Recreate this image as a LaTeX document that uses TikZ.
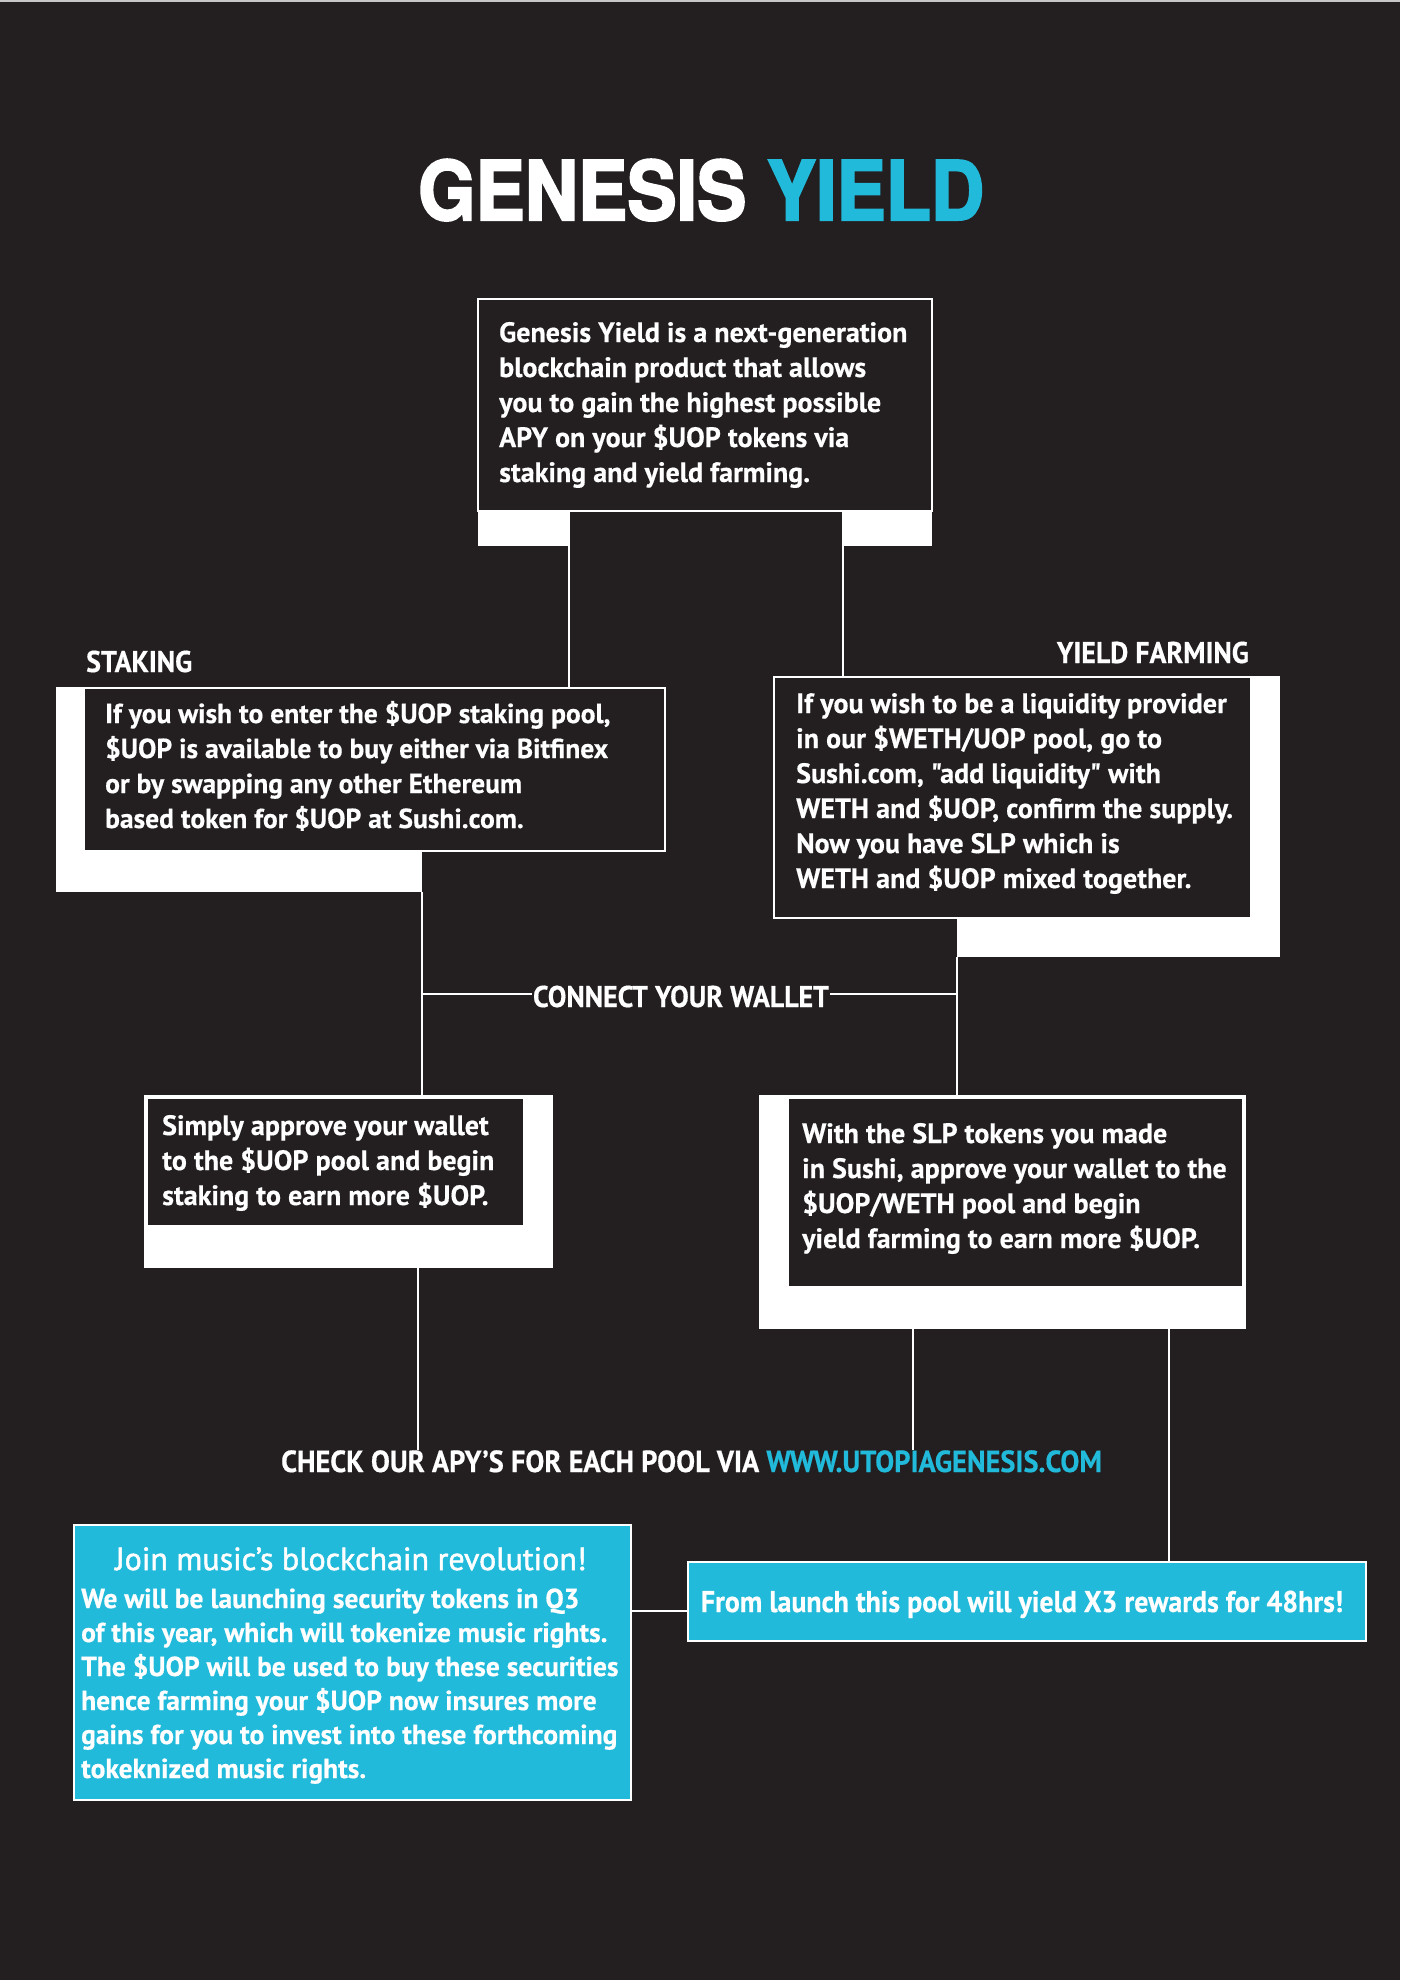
\documentclass[tikz,border=0pt]{standalone}
\usepackage{fontspec}
\setmainfont[Ligatures=TeXOff, BoldFeatures={FakeBold=0.5}]{PT Sans}
\newfontfamily\condfont[Ligatures=TeXOff, FakeStretch=0.93, BoldFeatures={FakeBold=0.5}]{PT Sans}
\newfontfamily\titlefont[BoldFeatures={FakeBold=2.5,FakeStretch=0.9}]{TeX Gyre Heros}
\newfontfamily\semifont[Ligatures=TeXOff, FakeBold=1.5]{PT Sans}
\definecolor{bgdark}{HTML}{231F20}
\definecolor{gcyan}{HTML}{22BADA}
\newcommand\mlines[1]{\vtop{\halign{##\hfil\cr#1\crcr}}}
\tikzset{
  box/.style={draw=white, line width=1.5pt, fill=bgdark, inner sep=0pt, outer sep=0pt, anchor=north west},
  shadowbox/.style={fill=white, draw=none, inner sep=0pt, outer sep=0pt, anchor=north west},
  cbox/.style={draw=white, line width=2pt, fill=gcyan, inner sep=0pt, outer sep=0pt, anchor=north west},
  conn/.style={draw=white, line width=1.5pt},
  bodytext/.style={text=white, font=\bfseries\fontsize{28}{35}\selectfont, inner sep=0pt, anchor=base west},
  lbl/.style={text=white, font=\condfont\bfseries\fontsize{30}{36}\selectfont, inner sep=0pt},
}
\begin{document}
\begin{tikzpicture}[x=1pt,y=-1pt]
\fill[bgdark] (0,0) rectangle (1400,1980);
\useasboundingbox (0,0) rectangle (1400,1980);
\fill[white!75!bgdark] (0,0) rectangle (1400,2);

% title
\node[anchor=base west, inner sep=0pt, text=white, font=\titlefont\bfseries\fontsize{82}{90}\selectfont] (title) at (418,220) {GENESIS \textcolor{gcyan}{YIELD}};

% top box
\node[shadowbox, minimum width=454pt, minimum height=247pt] (topsh) at (478,299) {};
\node[box, minimum width=454pt, minimum height=212pt] (top) at (478,299) {};
\node[fill=bgdark, inner sep=0pt, outer sep=0pt, anchor=north west, minimum width=274pt, minimum height=35pt] (notch) at (569,512) {};
\node[bodytext] (toptext) at (499,342) {\mlines{Genesis Yield is a next-generation\cr blockchain product that allows\cr you to gain the highest possible\cr APY on your \$UOP tokens via\cr staking and yield farming.}};

% staking
\node[lbl, anchor=base west] (stakelbl) at (86,672) {STAKING};
\node[shadowbox, minimum width=366pt, minimum height=205pt] (stakesh) at (56,687) {};
\node[box, minimum width=581pt, minimum height=163pt] (stake) at (84,688) {};
\node[bodytext, font=\bfseries\fontsize{27.5}{35}\selectfont] (staketext) at (105,723) {\mlines{If you wish to enter the \$UOP staking pool,\cr \$UOP is available to buy either via Bitfinex\cr or by swapping any other Ethereum\cr based token for \$UOP at Sushi.com.}};

% yield farming
\node[lbl, anchor=base east] (yflbl) at (1249,663) {YIELD FARMING};
\node[shadowbox, minimum width=323pt, minimum height=281pt] (yfsh) at (957,676) {};
\node[box, minimum width=477pt, minimum height=241pt] (yf) at (774,677) {};
\node[bodytext] (yftext) at (796,713) {\mlines{If you wish to be a liquidity provider\cr in our \$WETH/UOP pool, go to\cr Sushi.com, "add liquidity" with\cr WETH and \$UOP, confirm the supply.\cr Now you have SLP which is\cr WETH and \$UOP mixed together.}};

% connectors from top box
\draw[conn] (notch.north west) -- (notch.north west |- stake.north);
\draw[conn] (notch.north east) -- (notch.north east |- yf.north);

% approve boxes
\node[shadowbox, minimum width=409pt, minimum height=173pt] (app1sh) at (144,1095) {};
\node[box, minimum width=377pt, minimum height=128pt] (app1) at (147,1098) {};
\node[bodytext] (app1text) at (162,1135) {\mlines{Simply approve your wallet\cr to the \$UOP pool and begin\cr staking to earn more \$UOP.}};

\node[shadowbox, minimum width=487pt, minimum height=234pt] (app2sh) at (759,1095) {};
\node[box, minimum width=455pt, minimum height=189pt] (app2) at (788,1098) {};
\node[bodytext] (app2text) at (802,1143) {\mlines{With the SLP tokens you made\cr in Sushi, approve your wallet to the\cr \$UOP/WETH pool and begin\cr yield farming to earn more \$UOP.}};

\draw[conn] (stakesh.south east) -- (stakesh.south east |- app1.north);
\draw[conn] (yfsh.south west) -- (yfsh.south west |- app2.north);

% connect your wallet
\coordinate (cw) at (681,994);
\draw[conn] (cw -| stakesh.south east) -- (cw -| yfsh.south west);
\node[lbl, fill=bgdark, inner xsep=1pt, anchor=base] (wallet) at (681,1007) {CONNECT YOUR WALLET};

% check line
\node[lbl, anchor=base west, font=\condfont\bfseries\fontsize{30.5}{36}\selectfont] (check) at (281,1472) {CHECK OUR APY’S FOR EACH POOL VIA \textcolor{gcyan}{WWW.UTOPIAGENESIS.COM}};
\coordinate (k1) at (418,1450);
\coordinate (k2) at (913,1450);
\coordinate (k3) at (1169,1450);

% bottom boxes
\node[cbox, minimum width=557pt, minimum height=275pt] (join) at (74,1525) {};
\node[anchor=base, inner sep=0pt, text=white, font=\semifont\fontsize{32}{38}\selectfont] (jointitle) at (351,1570) {Join music’s blockchain revolution!};
\node[bodytext, font=\bfseries\fontsize{27.5}{34}\selectfont] (jointext) at (81,1608) {\mlines{We will be launching security tokens in Q3\cr of this year, which will tokenize music rights.\cr The \$UOP will be used to buy these securities\cr hence farming your \$UOP now insures more\cr gains for you to invest into these forthcoming\cr tokeknized music rights.}};

\node[cbox, minimum width=678pt, minimum height=79pt] (launch) at (688,1562) {};
\node[anchor=base, inner sep=0pt, text=white, font=\condfont\bfseries\fontsize{30}{36}\selectfont] (launchtext) at (1022,1612) {From launch this pool will yield X3 rewards for 48hrs!};

\draw[conn] (app1sh.south -| k1) -- (k1);
\draw[conn] (app2sh.south -| k2) -- (k2);
\draw[conn] (app2sh.south -| k3) -- (k3 |- launch.north);
\coordinate (lc) at (0,1611);
\draw[conn] (join.east |- lc) -- (launch.west |- lc);
\end{tikzpicture}
\end{document}
